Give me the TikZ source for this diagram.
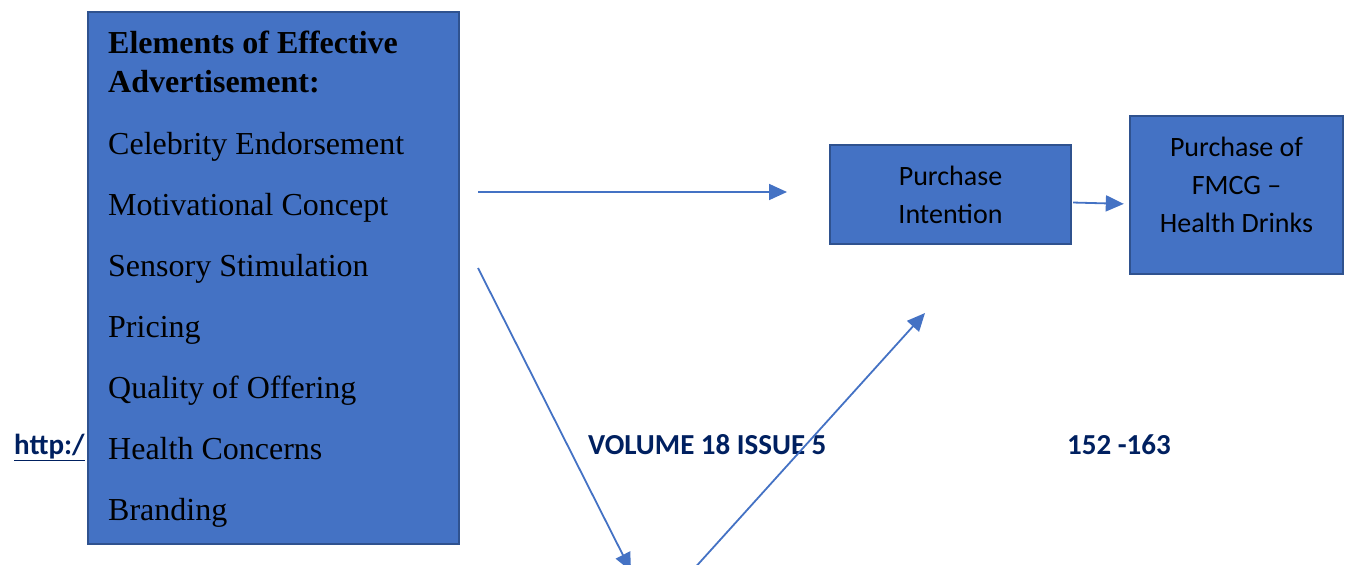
\documentclass[tikz,border=0pt]{standalone}
\usepackage{xcolor}
\usepackage{fontspec}
\setmainfont{Liberation Serif}
\newfontfamily\calibri{Carlito}
\usepackage{tikz}
\usetikzlibrary{arrows.meta, positioning}

\definecolor{boxblue}{HTML}{4472C4}
\definecolor{boxedge}{HTML}{2F528F}
\definecolor{footnavy}{HTML}{002060}

\begin{document}
\begin{tikzpicture}[x=1pt, y=-1pt,
    block/.style={draw=boxedge, line width=2.4pt, fill=boxblue, inner sep=0pt},
    boxtext/.style={font=\calibri\fontsize{28}{38}\selectfont, align=center, inner sep=0pt},
    elem/.style={font=\fontsize{32}{38}\selectfont, anchor=base west, inner sep=0pt},
    foot/.style={font=\calibri\fontsize{29}{34}\selectfont\bfseries, text=footnavy, anchor=base west, inner sep=0pt},
    flow/.style={draw=boxblue, line width=1.8pt, -{Triangle[length=18pt,width=16pt]}}]

    \useasboundingbox (0,0) rectangle (1347,565);
    \clip (0,0) rectangle (1347,565);

    % footer line of the page, behind the diagram
    \node[foot] (url) at (14,454) {\underline{http:/}};
    \node[foot] (volume) at (588,454) {VOLUME 18 ISSUE 5};
    \node[foot] (pages) at (1067,454) {152 -163};

    % elements box
    \node[block, minimum width=371pt, minimum height=532pt, anchor=north west] (elements) at (87,11) {};
    \node[elem, font=\fontsize{32}{38}\selectfont\bfseries] (head1) at (108,53) {Elements of Effective};
    \node[elem, font=\fontsize{32}{38}\selectfont\bfseries] (head2) at (108,92) {Advertisement:};
    \foreach \txt [count=\i] in {Celebrity Endorsement, Motivational Concept, Sensory Stimulation,
        Pricing, Quality of Offering, Health Concerns, Branding}
        \node[elem] (item\i) at (108, 154+61*\i-61) {\txt};

    % right hand boxes
    \node[block, boxtext, minimum width=241pt, minimum height=99pt] (intention) at (950.5,194.5)
        {Purchase\\Intention};
    \node[block, minimum width=213pt, minimum height=158pt] (fmcg) at (1236.5,195)
        {};
    \node[boxtext] (fmcgtext) at (1236.5,185) {Purchase of\\FMCG –\\Health Drinks};

    % free ends of the arrows
    \coordinate (a1s) at (478,192);
    \coordinate (a1e) at (787,192);
    \coordinate (a2s) at (478,268);
    \coordinate (a2e) at (631,571);
    \coordinate (a3s) at (692,571);
    \coordinate (a3e) at (925,313);

    \draw[flow] (a1s) -- (a1e);
    \draw[flow] (a2s) -- (a2e);
    \draw[flow] (a3s) -- (a3e);
    \draw[flow, shorten <=1pt, shorten >=5pt] ([yshift=-8pt]intention.east) -- ([yshift=-9pt]fmcg.west);

\end{tikzpicture}
\end{document}
